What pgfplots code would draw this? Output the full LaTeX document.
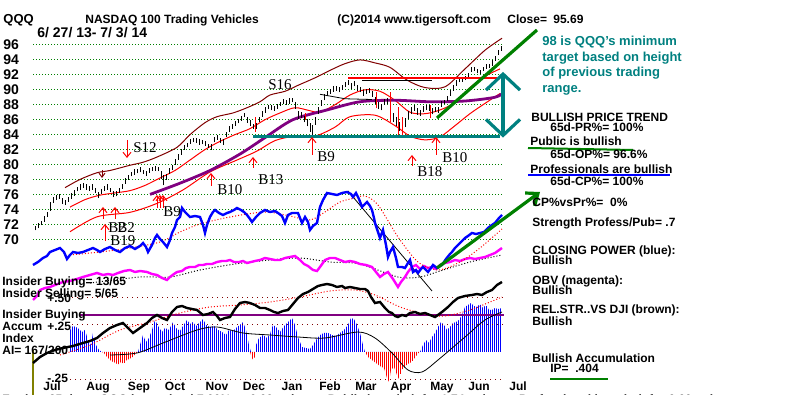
\documentclass[border=0pt]{standalone}
\usepackage{fontspec}
\setmainfont{Liberation Sans}
\newfontfamily\serif{Liberation Serif}
\usepackage{pgfplots}
\usepackage{pgfplotstable}
\pgfplotsset{compat=1.18}
\usetikzlibrary{arrows.meta,patterns.meta}
\definecolor{tgreen}{RGB}{0,128,0}
\definecolor{tteal}{RGB}{0,128,128}
\definecolor{tmaroon}{RGB}{128,0,0}
\definecolor{tpurple}{RGB}{128,0,128}
\definecolor{tmag}{RGB}{255,0,255}
\definecolor{tolive}{RGB}{128,128,0}
\definecolor{tblue}{RGB}{0,0,255}
\definecolor{tred}{RGB}{255,0,0}
\pgfplotsset{canvas/.style={at={(0,0)}, anchor=south west, scale only axis,
  width=400pt, height=197.5pt, xmin=0, xmax=800, hide axis}}
\newcommand{\T}[4][6]{\node[anchor=base west, inner sep=0pt, font=\fontsize{#1}{#1}\selectfont\bfseries] at (axis cs:#2,#3) {#4};}
\newcommand{\Sg}[3]{\node[anchor=base west, inner sep=0pt, font=\fontsize{7.5}{7.5}\selectfont\serif] at (axis cs:#1,#2) {#3};}
\newcommand{\M}[2]{\node[anchor=base, inner sep=0pt, font=\fontsize{6}{6}\selectfont\bfseries] at (axis cs:#1,391) {#2};}
\pgfplotstableread{
x c r
35 71.5 0.3
38 71.8 0.35
41 72.2 0.3
44 72.7 0.35
47 73.3 0.35
50 74.4 0.6
53 75.3 0.4
56 75.6 0.35
59 75.7 0.3
62 75.1 0.4
65 74.9 0.35
68 75.3 0.3
71 75.8 0.4
74 76.2 0.35
77 76.7 0.3
80 77.0 0.35
83 77.2 0.3
86 77.0 0.35
89 76.8 0.3
92 77.0 0.35
95 76.5 0.3
98 75.9 0.4
101 76.4 0.35
104 76.8 0.3
107 77.0 0.35
110 76.6 0.3
113 76.0 0.4
116 76.1 0.35
119 76.5 0.3
122 77.1 0.35
125 77.8 0.4
128 78.3 0.35
131 78.7 0.3
134 79.0 0.35
137 79.1 0.3
140 79.3 0.35
143 79.0 0.3
146 78.8 0.35
149 79.2 0.3
152 79.4 0.3
155 79.5 0.35
158 79.4 0.3
161 78.6 0.5
163 77.9 0.7
166 78.3 0.4
169 79.1 0.4
172 79.6 0.35
175 80.4 0.4
178 81.0 0.35
181 81.7 0.4
184 82.3 0.35
187 82.6 0.3
190 83.1 0.35
193 83.3 0.3
196 83.2 0.3
199 83.0 0.35
202 83.0 0.3
205 82.8 0.35
208 82.5 0.3
211 82.4 0.4
214 83.3 0.35
217 83.6 0.3
220 83.2 0.35
223 83.0 0.4
226 84.0 0.35
229 84.7 0.4
232 85.1 0.3
235 85.5 0.35
238 85.8 0.3
241 86.2 0.35
244 86.6 0.3
247 86.0 0.4
250 85.5 0.4
253 85.1 0.35
256 85.2 0.4
259 86.0 0.35
262 86.8 0.4
265 87.3 0.35
268 87.7 0.3
271 87.6 0.35
274 87.5 0.3
277 87.8 0.35
280 88.1 0.3
283 88.4 0.35
286 88.3 0.3
289 88.5 0.35
292 88.6 0.3
295 87.9 0.45
298 86.6 0.5
301 86.6 0.4
304 86.1 0.45
307 85.6 0.5
310 85.0 0.6
312 84.6 0.7
315 85.8 0.5
318 87.2 0.45
321 88.2 0.4
324 89.0 0.4
327 89.5 0.35
330 89.8 0.3
333 90.1 0.35
336 90.2 0.3
339 90.0 0.35
342 90.3 0.3
345 90.7 0.35
348 91.0 0.35
351 90.5 0.4
354 90.8 0.35
357 90.2 0.4
360 90.0 0.35
363 89.6 0.4
366 89.8 0.35
369 89.9 0.3
372 89.5 0.4
375 88.6 0.5
378 87.9 0.5
381 87.7 0.45
384 88.4 0.4
387 88.5 0.45
390 87.0 0.6
393 86.3 0.6
396 85.7 0.6
399 85.1 0.6
402 84.5 0.6
405 85.6 0.6
408 86.6 0.55
411 87.2 0.45
414 87.6 0.4
417 87.1 0.45
420 86.9 0.4
423 87.4 0.4
426 87.6 0.35
429 87.6 0.4
432 87.1 0.4
435 87.4 0.35
438 87.3 0.4
441 88.1 0.35
444 88.4 0.3
447 88.8 0.35
450 89.6 0.4
453 90.3 0.4
456 90.9 0.35
459 91.3 0.3
462 91.4 0.3
465 91.6 0.3
468 91.9 0.35
471 92.7 0.35
474 92.8 0.3
477 92.5 0.3
480 92.4 0.3
483 92.8 0.3
486 93.1 0.3
489 93.2 0.3
492 93.6 0.35
495 94.2 0.35
498 95.0 0.35
501 95.5 0.3
}\price
\begin{document}
\begin{tikzpicture}
\useasboundingbox (0,0) rectangle (400pt,197.5pt);
% ---------------- price axis ----------------
\begin{axis}[canvas, ymin=49.15, ymax=102.02]
\pgfplotsinvokeforeach{70,72,...,96}{
  \addplot[tgreen, line width=0.5pt, dash pattern=on 0.5pt off 1pt] coordinates {(33,#1) (504,#1)};
}
\addplot[tmaroon, line width=0.5pt, smooth] coordinates {
(65,76.9) (80,78.0) (97,78.9) (110,79.2) (130,79.9) (143,80.3) (157,81.0) (177,82.3)
(190,84.0) (205,85.6) (217,86.4) (233,86.9) (247,87.6) (260,88.4) (270,89.3) (285,89.8)
(298,90.6) (315,91.6) (330,92.6) (345,93.5) (360,94.0) (375,93.6) (390,93.0) (407,91.3)
(425,90.3) (445,90.4) (465,92.8) (485,95.3) (502,96.9)};
\addplot[tred, line width=0.5pt, smooth] coordinates {
(70,74.3) (85,75.3) (100,75.9) (115,76.2) (130,76.5) (145,77.2) (160,78.2) (175,79.2)
(190,80.6) (205,82.0) (220,83.1) (235,84.0) (250,84.8) (265,86.0) (280,86.9) (295,87.6)
(310,87.2) (320,87.0) (335,88.0) (350,89.3) (365,90.0) (380,89.8) (395,88.6) (410,87.0)
(425,86.8) (440,87.3) (455,88.3) (470,90.3) (485,91.8) (500,92.8)};
\addplot[tred, line width=0.5pt, smooth] coordinates {
(70,71.0) (97,73.0) (130,73.6) (157,74.8) (183,76.6) (210,79.0) (237,80.6) (257,81.8)
(275,83.2) (295,83.8) (315,83.8) (335,85.0) (350,86.4) (375,86.6) (395,85.2) (410,83.8)
(425,83.3) (440,83.7) (455,85.2) (472,87.0) (500,89.5)};
\addplot[tpurple, line width=1.4pt, smooth] coordinates {
(150,76.0) (180,77.5) (210,79.2) (240,81.4) (265,83.6) (293,86.0) (327,87.3) (360,88.4)
(395,88.6) (430,88.4) (465,88.5) (495,89.0) (503,89.6)};
\addplot[black, line width=0.4pt] coordinates {(320,89.4) (345,88.8) (372,88.7)};
\addplot[black, line width=0.4pt] coordinates {(362,91.3) (432,91.3)};
% price bars (low to high)
\addplot[black, line width=0.5pt, quiver={u=0, v=2*\thisrow{r}}]
  table[x=x, y expr=\thisrow{c}-\thisrow{r}] {\price};
\addplot[tred, line width=0.5pt] coordinates {(255,84.4) (255,86.4)};
\addplot[tred, line width=0.5pt] coordinates {(305,86.0) (305,86.9)};
\addplot[tred, line width=0.5pt] coordinates {(376,87.5) (376,89.7)};
\addplot[tred, line width=0.5pt] coordinates {(390,85.7) (390,89.7)};
\addplot[tred, line width=0.5pt] coordinates {(398,84.0) (398,87.7)};
\addplot[tred, line width=0.5pt] coordinates {(402,83.7) (402,86.4)};
\addplot[tred, line width=0.5pt] coordinates {(430,86.2) (430,88.0)};
\addplot[tred, line width=1.1pt] coordinates {(348,91.55) (497,91.55)};
\addplot[tteal, line width=1.1pt] coordinates {(253,83.75) (500,83.75)};
\addplot[tteal, line width=1.6pt, {Straight Barb[length=8pt,width=17pt]}-{Straight Barb[length=8pt,width=17pt]}]
  coordinates {(503,92.4) (503,83.6)};
\end{axis}
% ---------------- accumulation axis ----------------
\begin{axis}[canvas, ymin=-0.41346, ymax=3.38462]
\addplot[draw=none, pattern={Lines[angle=90,distance=1pt,line width=0.5pt]}, pattern color=tblue] coordinates {
(70,0) (70,0.212) (73,0.250) (76,0.240) (79,0.221) (82,0.192) (85,0.212) (88,0.115) (91,0.067)
(93,0.183) (96,0.067) (99,0.019) (102,0) (138,0) (140,0.067) (143,0.163) (146,0.096) (149,0.135)
(152,0.212) (155,0.308) (158,0.250) (162,0.192) (165,0.231) (169,0.212) (173,0.288) (176,0.231)
(180,0.202) (183,0.250) (187,0.308) (190,0.269) (193,0.288) (196,0.250) (200,0.288) (203,0.317)
(206,0.260) (210,0.240) (214,0.250) (218,0.212) (222,0.192) (226,0.163) (229,0.212) (233,0.202)
(237,0.240) (240,0.260) (243,0.288) (246,0.212) (249,0.067) (251,0) (256,0) (256,0.067) (259,0.135)
(263,0.163) (267,0.135) (270,0.173) (273,0.260) (276,0.240) (280,0.192) (284,0.250) (288,0.288)
(292,0.327) (295,0.260) (298,0.144) (302,0.048) (306,0.038) (310,0.029) (313,0.067) (316,0.115)
(320,0.163) (324,0.183) (328,0.183) (332,0.163) (336,0.154) (340,0.183) (344,0.212) (348,0.260)
(351,0.327) (354,0.317) (357,0.260) (360,0.183) (363,0.067) (365,0) (420,0) (423,0.067)
(426,0.115) (429,0.087) (432,0.144) (435,0.183) (438,0.240) (441,0.288) (444,0.260) (447,0.212)
(450,0.240) (453,0.279) (456,0.288) (459,0.308) (462,0.356) (465,0.433) (468,0.452) (471,0.471)
(474,0.442) (477,0.433) (480,0.462) (483,0.423) (486,0.452) (489,0.404) (492,0.404) (495,0.423)
(498,0.413) (502,0.423) (502,0)} \closedcycle;
\addplot[draw=none, pattern={Lines[angle=90,distance=1pt,line width=0.5pt]}, pattern color=tred] coordinates {
(102,0) (104,-0.010) (107,-0.048) (110,-0.077) (113,-0.096) (116,-0.106) (118,-0.125) (121,-0.096)
(124,-0.115) (127,-0.077) (130,-0.067) (133,-0.048) (136,-0.019) (138,0)} \closedcycle;
\addplot[draw=none, pattern={Lines[angle=90,distance=1pt,line width=0.5pt]}, pattern color=tred] coordinates {
(250,0) (252,-0.058) (254,-0.087) (256,0)} \closedcycle;
\addplot[draw=none, pattern={Lines[angle=90,distance=1pt,line width=0.5pt]}, pattern color=tred] coordinates {
(365,0) (368,-0.048) (372,-0.077) (376,-0.106) (380,-0.135) (384,-0.154) (387,-0.250) (389,-0.288)
(391,-0.173) (394,-0.144) (397,-0.221) (399,-0.260) (402,-0.173) (405,-0.144) (408,-0.115)
(412,-0.096) (415,-0.058) (418,-0.019) (420,0)} \closedcycle;
\end{axis}
% ---------------- pixel axis: indicators and texts ----------------
\begin{axis}[canvas, ymin=0, ymax=395, y dir=reverse, clip=false]
\addplot[tmaroon, line width=0.5pt, dash pattern=on 0.5pt off 2pt] coordinates {(72,298) (504,298)};
\addplot[tmaroon, line width=0.5pt, dash pattern=on 0.5pt off 2pt] coordinates {(72,325) (504,325)};
\addplot[tmaroon, line width=0.5pt, dash pattern=on 0.5pt off 2pt] coordinates {(70,380) (504,380)};
\addplot[tpurple, line width=0.6pt] coordinates {(80,315) (504,315)};
\addplot[tolive, line width=0.6pt] coordinates {(33,350) (33,395)};
\addplot[black, line width=0.4pt, smooth] coordinates {
(110,355) (137,353) (163,343) (197,330) (217,327) (243,333) (270,335) (298,337) (325,338)
(358,332) (375,338) (392,353) (408,370) (422,372) (438,360) (465,337) (485,320) (502,312)};
\addplot[tred, line width=0.5pt, dash pattern=on 0.5pt off 1pt, smooth] coordinates {
(60,355) (90,345) (120,330) (150,322) (180,313) (210,307) (240,305) (270,302) (300,297)
(330,291) (355,290) (375,295) (400,307) (425,314) (445,316) (470,310) (490,302) (502,297)};
\addplot[black, line width=1.2pt] coordinates {
(33,363) (40,357) (47,353) (55,350) (63,348) (73,346) (83,343) (90,341) (97,338) (103,333)
(110,328) (117,325) (123,323) (128,328) (133,333) (140,328) (147,323) (152,318) (157,315)
(162,318) (167,320) (172,312) (177,307) (182,306) (187,308) (192,309) (197,310) (203,315)
(208,314) (213,312) (217,316) (220,320) (225,318) (230,317) (235,309) (240,303) (245,302)
(250,303) (255,305) (260,308) (265,308) (270,310) (274,312) (278,313) (283,311) (288,310)
(293,304) (298,298) (303,294) (308,292) (313,289) (318,286) (322,285) (327,284) (332,285)
(337,287) (342,286) (345,288) (350,287) (355,288) (360,289) (365,289) (368,291) (371,297)
(375,303) (380,302) (385,308) (389,312) (392,313) (395,316) (398,317) (402,315) (406,316)
(410,313) (415,312) (420,314) (425,313) (430,315) (435,317) (438,315) (442,312) (448,307)
(453,302) (458,298) (465,296) (472,295) (477,294) (482,295) (487,292) (492,290) (497,285) (502,282)};
\addplot[black, line width=0.5pt, dash pattern=on 0.5pt off 1pt, smooth] coordinates {
(90,283) (140,277) (170,277) (200,270) (235,264) (270,260) (300,258) (330,262) (360,264)
(398,277) (420,277) (440,271) (470,262) (502,255)};
\addplot[tmag, line width=1.2pt] coordinates {
(33,300) (37,296) (40,290) (45,288) (50,287) (55,285) (63,282) (70,281) (77,279) (83,277)
(90,275) (97,273) (103,275) (108,274) (113,275) (118,273) (124,271) (130,270) (135,272)
(140,271) (147,272) (152,274) (157,275) (162,278) (167,280) (170,277) (174,274) (177,272)
(182,271) (186,268) (190,267) (195,267) (199,265) (203,265) (207,264) (212,264) (217,262)
(222,261) (226,261) (230,260) (234,262) (239,262) (243,261) (247,263) (251,262) (255,261)
(260,260) (265,258) (270,259) (275,260) (280,260) (285,258) (290,257) (295,256) (300,260)
(304,264) (308,266) (313,270) (317,271) (320,267) (325,260) (330,258) (335,258) (340,260)
(345,262) (350,261) (355,262) (360,264) (366,265) (372,267) (376,272) (380,277) (384,274)
(388,272) (393,279) (398,287) (401,282) (405,277) (408,272) (412,267) (416,265) (420,269)
(424,266) (428,268) (432,267) (436,269) (440,265) (445,263) (450,262) (455,260) (460,261)
(465,259) (470,258) (475,259) (480,258) (485,257) (490,255) (495,253) (502,248)};
\addplot[tred, line width=0.5pt, dash pattern=on 0.5pt off 1pt, smooth] coordinates {
(70,255) (100,252) (130,248) (160,242) (180,232) (200,224) (230,217) (265,212) (290,216)
(310,220) (325,212) (340,202) (355,198) (365,196) (378,205) (398,237) (418,262) (438,270)
(460,262) (480,248) (502,229)};
\addplot[black, line width=0.4pt] coordinates {(348,191) (432,291)};
\addplot[tblue, line width=1.2pt] coordinates {
(33,265) (38,262) (43,258) (47,256) (50,252) (55,250) (60,248) (64,252) (67,259) (70,255)
(73,252) (78,253) (83,252) (88,250) (93,248) (97,250) (100,252) (105,249) (110,247) (115,250)
(120,252) (125,248) (130,246) (135,249) (140,246) (143,243) (146,247) (148,252) (152,245)
(155,238) (157,235) (160,239) (163,242) (167,247) (170,240) (172,233) (175,227) (177,220)
(180,217) (182,208) (185,212) (188,215) (190,217) (195,216) (200,217) (203,225) (205,233)
(207,225) (210,217) (213,212) (215,210) (219,213) (223,215) (227,213) (230,212) (234,210)
(237,208) (241,210) (244,212) (247,215) (250,219) (252,222) (256,217) (260,213) (265,210)
(270,212) (275,211) (278,213) (282,216) (285,223) (288,215) (292,213) (298,213) (300,218)
(302,223) (305,217) (308,222) (310,230) (313,226) (317,223) (320,207) (323,200) (327,193)
(332,194) (337,195) (342,193) (347,192) (351,194) (353,197) (356,193) (359,199) (362,207)
(365,204) (367,202) (370,206) (372,210) (374,218) (375,223) (378,232) (380,238) (383,230)
(386,245) (388,257) (390,252) (393,247) (396,258) (398,267) (402,267) (405,268) (408,263)
(410,260) (413,272) (416,270) (418,273) (421,269) (423,267) (426,270) (428,272) (431,268)
(433,265) (437,268) (440,266) (442,265) (446,259) (450,254) (452,252) (455,248) (458,245)
(462,241) (465,238) (468,236) (472,233) (476,234) (480,233) (484,232) (488,228) (492,225)
(495,223) (499,218) (502,215)};
\addplot[tgreen, line width=1.6pt] coordinates {(437,118) (537,30)};
\addplot[tgreen, line width=1.6pt, -{Straight Barb[length=5pt,width=8pt]}] coordinates {(437,268) (540,192)};
\pgfplotsset{sig/.style={tred, line width=0.5pt, -{Straight Barb[length=2.5pt,width=4pt]}}}
\addplot[sig] coordinates {(103,219) (103,207)};
\addplot[sig] coordinates {(115,219) (115,207)};
\addplot[sig] coordinates {(105,241) (105,224)};
\addplot[sig] coordinates {(157,208) (157,195)};
\addplot[sig] coordinates {(160,208) (160,195)};
\addplot[sig] coordinates {(163,208) (163,195)};
\addplot[sig] coordinates {(211,186) (211,173)};
\addplot[sig] coordinates {(253,168) (253,157)};
\addplot[sig] coordinates {(312,155) (312,137)};
\addplot[sig] coordinates {(412,166) (412,155)};
\addplot[sig] coordinates {(436,155) (436,137)};
\addplot[sig] coordinates {(127,140) (127,158)};
\addplot[tmaroon, line width=0.5pt, -{Straight Barb[length=2pt,width=3pt]}] coordinates {(102,170) (102,178)};
\Sg{133}{153}{S12}
\Sg{108}{233}{B2}
\Sg{117}{233}{B2}
\Sg{110}{246}{B19}
\Sg{163}{217}{B9}
\Sg{217}{195}{B10}
\Sg{258}{185}{B13}
\Sg{317}{162}{B9}
\Sg{417}{177}{B18}
\Sg{442}{163}{B10}
\Sg{268}{90}{S16}
\addplot[tgreen, line width=1pt] coordinates {(528,148) (633,150)};
\addplot[tblue, line width=1pt] coordinates {(528,175.5) (670,175.5)};
\addplot[tgreen, line width=1pt] coordinates {(550,379) (608,379)};
\T[6.5]{3}{24}{QQQ}
\T{85}{24}{NASDAQ 100 Trading Vehicles}
\T[7]{37}{37.5}{6/ 27/ 13- 7/ 3/ 14}
\T{337}{24}{(C)2014 www.tigersoft.com}
\T{507}{24}{Close=}
\T{553}{24}{95.69}
\pgfplotsinvokeforeach{96,94,...,70}{
  \node[anchor=west, inner sep=0pt, font=\fontsize{7}{7}\selectfont\bfseries] at (axis cs:3,{45+(96-#1)*7.47}) {#1};
}
\begin{scope}[color=tteal]
\T[6.5]{542}{46}{98 is QQQ's minimum}
\T[6.5]{542}{61.5}{target based on height}
\T[6.5]{542}{77}{of previous trading}
\T[6.5]{542}{92.5}{range.}
\end{scope}
\T{531}{122}{BULLISH PRICE TREND}
\T{550}{131.5}{65d-PR\%= 100\%}
\T{530}{146}{Public is bullish}
\T{550}{159}{65d-OP\%= 96.6\%}
\T{530}{174}{Professionals are bullish}
\T{550}{186}{65d-CP\%= 100\%}
\T{532}{206.5}{CP\%vsPr\%=\ \ 0\%}
\T{532}{226.5}{Strength Profess/Pub= .7}
\T{532}{254.5}{CLOSING POWER (blue):}
\T{532}{264.5}{Bullish}
\T{532}{284.5}{OBV (magenta):}
\T{532}{295}{Bullish}
\T{532}{314}{REL.STR..VS DJI (brown):}
\T{532}{326}{Bullish}
\T{532}{363}{Bullish Accumulation}
\T{550}{373}{IP=\ \ .404}
\T{2}{286}{Insider Buying= 13/65}
\T{2}{298}{Insider Selling= 5/65}
\T{47}{303}{+.50}
\T{2}{319}{Insider Buying}
\T{2}{331}{Accum}
\T{47}{331}{+.25}
\T{2}{343}{Index}
\T{2}{355}{AI= 167/200}
\T{47}{383}{-.25}
\M{52}{Jul}
\M{98}{Aug}
\M{139}{Sep}
\M{175}{Oct}
\M{217}{Nov}
\M{254}{Dec}
\M{292}{Jan}
\M{330}{Feb}
\M{366}{Mar}
\M{401}{Apr}
\M{442}{May}
\M{479}{Jun}
\M{518}{Jul}
\T{2}{403.5}{For last 25 days, QQQ has gained 7.00\% or 0.00 points.\quad Public bought it for 1.74 points.\quad Professional bought it for 0.00 points}
\end{axis}
\end{tikzpicture}
\end{document}
